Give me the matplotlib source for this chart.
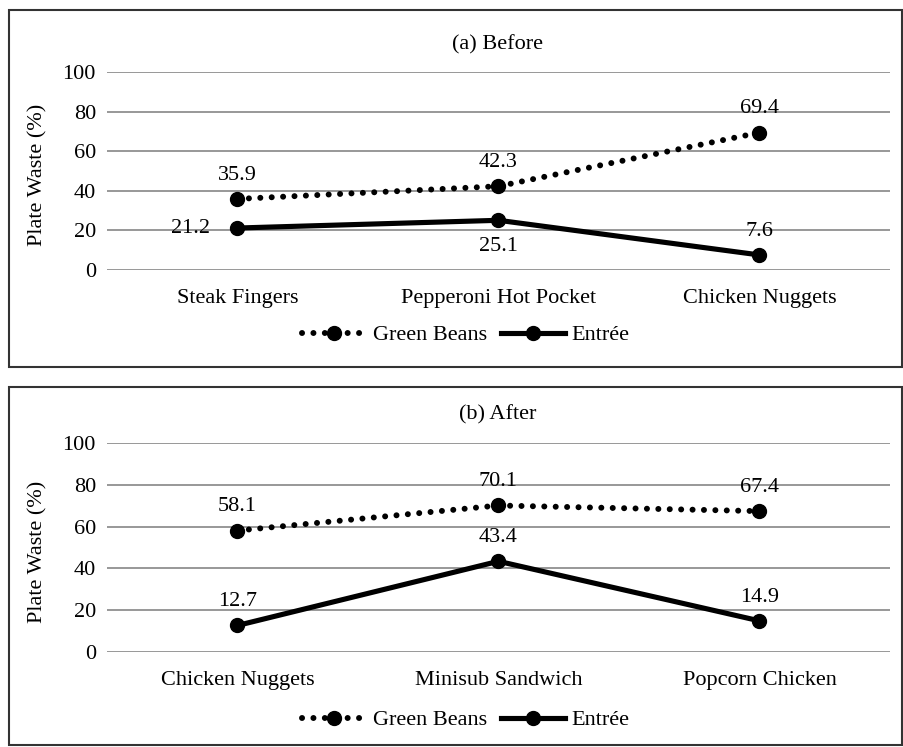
import matplotlib.pyplot as plt
from matplotlib.patches import Rectangle
from matplotlib.lines import Line2D

plt.rcParams['font.family'] = ['Liberation Serif', 'DejaVu Serif']

before_cats = ['Steak Fingers', 'Pepperoni Hot Pocket', 'Chicken Nuggets']
before_beans = [35.9, 42.3, 69.4]
before_entree = [21.2, 25.1, 7.6]

after_cats = ['Chicken Nuggets', 'Minisub Sandwich', 'Popcorn Chicken']
after_beans = [58.1, 70.1, 67.4]
after_entree = [12.7, 43.4, 14.9]

yticks = [0, 20, 40, 60, 80, 100]
FS = 16
W, H = 904, 747
DOTS = (0, (0.01, 1.9))

fig = plt.figure(figsize=(W / 100, H / 100), dpi=100)


def fx(px):
    return px / W


def fy(py):
    return 1 - py / H


def bean_line(ax, x, y):
    ax.plot(x, y, color='black', lw=4.3, linestyle=DOTS,
            dash_capstyle='round', zorder=3)
    ax.plot(x, y, 'o', color='black', ms=10, zorder=4)


def entree_line(ax, x, y):
    ax.plot(x, y, color='black', lw=3.7, solid_capstyle='round', zorder=3)
    ax.plot(x, y, 'o', color='black', ms=10, zorder=4)


def panel(top_px, bottom_px, cats, beans, entree, title, frame, title_y,
          leg_y, entree_pos):
    ax = fig.add_axes([fx(107), fy(bottom_px), fx(890 - 107),
                       (bottom_px - top_px) / H])
    x = list(range(len(cats)))
    bean_line(ax, x, beans)
    entree_line(ax, x, entree)
    ax.set_xlim(-0.5, len(cats) - 0.5)
    ax.set_ylim(0, 100)
    ax.set_yticks(yticks)
    ax.set_xticks(x)
    ax.set_xticklabels(cats, fontsize=FS)
    ax.tick_params(axis='y', labelsize=FS, length=0, pad=8)
    ax.tick_params(axis='x', length=0, pad=14)
    ax.yaxis.grid(True, color='#909090', lw=1.3)
    ax.set_axisbelow(True)
    for s in ax.spines.values():
        s.set_visible(False)
    for xi, v in zip(x, beans):
        ax.annotate(f'{v}', (xi, v), xytext=(0, 17), textcoords='offset points',
                    ha='center', va='center', fontsize=FS)
    for xi, v, pos in zip(x, entree, entree_pos):
        if pos == 'left':
            off = (-34, 0)
        elif pos == 'below':
            off = (0, -19)
        else:
            off = (0, 17)
        ax.annotate(f'{v}', (xi, v), xytext=off, textcoords='offset points',
                    ha='center', va='center', fontsize=FS)

    fig.text(fx(498), fy(title_y), title, ha='center', va='center', fontsize=FS)
    fig.text(fx(38), fy((top_px + bottom_px) / 2 + 4), 'Plate Waste (%)',
             rotation=90, ha='center', va='center', fontsize=FS)
    handles = [
        Line2D([], [], color='black', lw=4.3, linestyle=DOTS,
               dash_capstyle='round', marker='o', ms=10),
        Line2D([], [], color='black', lw=3.7, marker='o', ms=10),
    ]
    fig.legend(handles, ['Green Beans', 'Entrée'], loc='center',
               bbox_to_anchor=(fx(466), fy(leg_y)), ncol=2, frameon=False,
               fontsize=FS, handlelength=2.9, handletextpad=0.3,
               columnspacing=0.6)
    l, t, r, b = frame
    fig.patches.append(Rectangle((fx(l), fy(b)), fx(r - l), (b - t) / H,
                                 transform=fig.transFigure, fill=False,
                                 edgecolor='#333333', lw=1.5))
    return ax


panel(72, 270, before_cats, before_beans, before_entree, '(a) Before',
      (9, 10, 902, 367), 45, 335, ['left', 'below', 'above'])
panel(443, 652, after_cats, after_beans, after_entree, '(b) After',
      (9, 387, 902, 745), 415, 720, ['above', 'above', 'above'])

fig.savefig('out.png', dpi=100)
